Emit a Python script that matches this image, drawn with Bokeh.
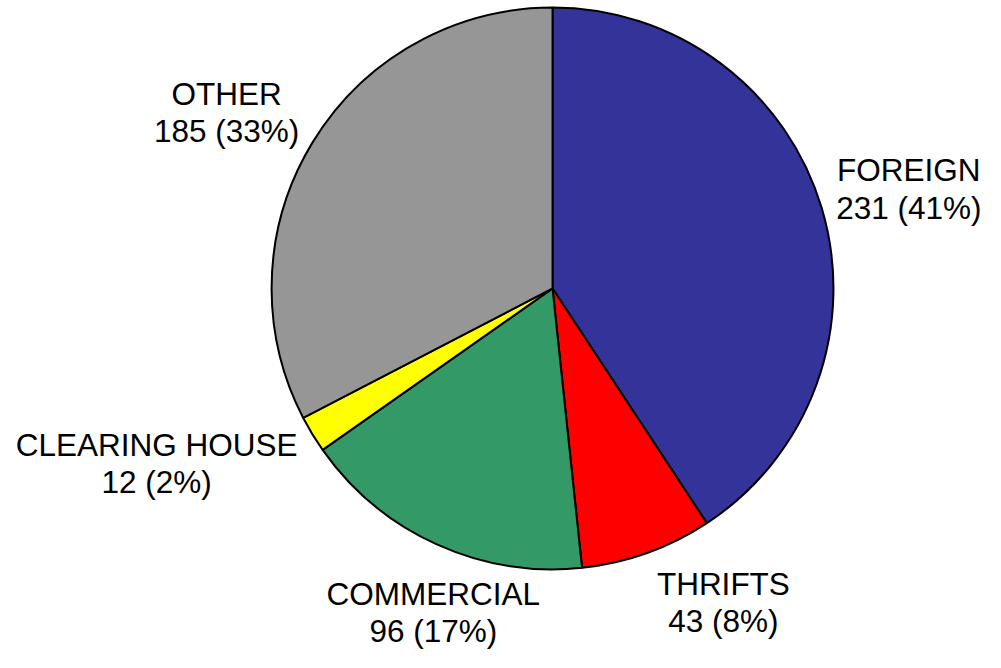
import math
from bokeh.plotting import figure
from bokeh.models import Range1d, ColumnDataSource
from bokeh.core.properties import value
from bokeh.embed import file_html
from bokeh.resources import INLINE

# ---- data ----
categories = ["FOREIGN", "THRIFTS", "COMMERCIAL", "CLEARING HOUSE", "OTHER"]
counts = [231, 43, 96, 12, 185]
colors = ["#333399", "#FF0000", "#339966", "#FFFF00", "#969696"]

# ---- layout / style ----
W, H = 985, 652            # canvas pixels
XW, YH = 1001, 668         # data extent
cx, cy = 561, 373          # pie centre in data units
R = 285.5
label_r = 370
# per-label nudges (+x right, +y down)
nudge_x = [7.6, 49, 32, -86, -15]
nudge_y = [4.7, -26, -4.5, -12.5, 12.5]
FONT = "Liberation Sans"
FSIZE = "31.5px"
LINE_GAP = 38
BASE_OFF = 19.5

total = sum(counts)
starts, ends, mids = [], [], []
cum = 0
for c in counts:
    a0 = math.pi / 2 - 2 * math.pi * cum / total
    cum += c
    a1 = math.pi / 2 - 2 * math.pi * cum / total
    starts.append(a0)
    ends.append(a1)
    mids.append((a0 + a1) / 2)

src = ColumnDataSource(dict(start=starts, end=ends, color=colors))

p = figure(width=W, height=H, x_range=Range1d(0, XW), y_range=Range1d(0, YH),
           output_backend="svg", toolbar_location=None, min_border=0,
           outline_line_color=None, background_fill_color="white")
p.axis.visible = False
p.grid.visible = False

p.wedge(x=cx, y=cy, radius=R, start_angle="start", end_angle="end",
        direction="clock", fill_color="color", line_color="black",
        line_width=2, source=src)

l1x, l1y, l1t, l2t, l2y = [], [], [], [], []
for i, (cat, c) in enumerate(zip(categories, counts)):
    ax = cx + label_r * math.cos(mids[i]) + nudge_x[i]
    ay = cy + label_r * math.sin(mids[i]) - nudge_y[i]
    pct = round(100 * c / total)
    l1x.append(ax)
    l1y.append(ay + BASE_OFF)
    l2y.append(ay + BASE_OFF - LINE_GAP)
    l1t.append(cat)
    l2t.append(f"{c} ({pct}%)")

p.text(x=l1x, y=l1y, text=l1t, text_font=value(FONT), text_font_size=FSIZE,
       text_align="center", text_baseline="alphabetic", text_color="black")
p.text(x=l1x, y=l2y, text=l2t, text_font=value(FONT), text_font_size=FSIZE,
       text_align="center", text_baseline="alphabetic", text_color="black")

open("out.html", "w").write(file_html(p, INLINE))
